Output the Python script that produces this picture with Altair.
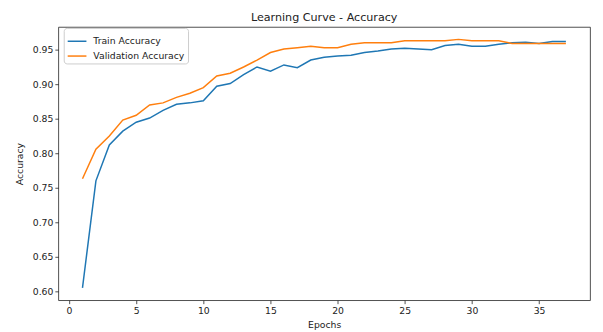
import altair as alt
import pandas as pd

epochs = list(range(1, 38))
train_acc = [0.605, 0.760, 0.812, 0.832, 0.845, 0.851, 0.862, 0.871, 0.873, 0.876,
             0.897, 0.901, 0.914, 0.925, 0.919, 0.928, 0.924, 0.935, 0.939, 0.941,
             0.942, 0.946, 0.948, 0.951, 0.952, 0.951, 0.950, 0.956, 0.958, 0.955,
             0.955, 0.958, 0.960, 0.961, 0.959, 0.962, 0.962]
val_acc = [0.763, 0.806, 0.825, 0.848, 0.855, 0.870, 0.873, 0.881, 0.887, 0.895,
           0.912, 0.916, 0.925, 0.935, 0.946, 0.951, 0.953, 0.955, 0.953, 0.953,
           0.958, 0.960, 0.960, 0.960, 0.963, 0.963, 0.963, 0.963, 0.965, 0.963,
           0.963, 0.963, 0.959, 0.959, 0.959, 0.959, 0.959]
series_names = ["Train Accuracy", "Validation Accuracy"]
series_colors = ["#1f77b4", "#ff7f0e"]
x_ticks = [0, 5, 10, 15, 20, 25, 30, 35]
y_ticks = [0.60, 0.65, 0.70, 0.75, 0.80, 0.85, 0.90, 0.95]

rows = []
for e, t, v in zip(epochs, train_acc, val_acc):
    rows.append({"Epoch": e, "Accuracy": t, "Series": series_names[0]})
    rows.append({"Epoch": e, "Accuracy": v, "Series": series_names[1]})
df = pd.DataFrame(rows)

FONT = "DejaVu Sans"
TXT = "#222222"

chart = alt.Chart(df).mark_line(strokeWidth=1.5).encode(
    x=alt.X("Epoch:Q",
            scale=alt.Scale(domain=[-0.8, 38.8], nice=False, zero=False),
            axis=alt.Axis(title="Epochs", values=x_ticks, format="d", grid=False,
                          domain=False, tickSize=3.5, tickColor=TXT, tickWidth=0.8,
                          labelFont=FONT, labelFontSize=9.4, labelColor=TXT,
                          labelPadding=3, titleFont=FONT, titleFontSize=9.4,
                          titleFontWeight="normal", titleColor=TXT, titlePadding=6)),
    y=alt.Y("Accuracy:Q",
            scale=alt.Scale(domain=[0.587, 0.983], nice=False, zero=False),
            axis=alt.Axis(title="Accuracy", values=y_ticks, format=".2f", grid=False,
                          domain=False, tickSize=3.5, tickColor=TXT, tickWidth=0.8,
                          labelFont=FONT, labelFontSize=9.4, labelColor=TXT,
                          labelPadding=2, titleFont=FONT, titleFontSize=9.4,
                          titleFontWeight="normal", titleColor=TXT, titlePadding=8)),
    color=alt.Color("Series:N",
                    scale=alt.Scale(domain=series_names, range=series_colors),
                    legend=alt.Legend(title=None, orient="none", legendX=5.5, legendY=1,
                                      symbolType="stroke", symbolSize=361,
                                      symbolStrokeWidth=1.5, labelFont=FONT,
                                      labelFontSize=9.4, labelColor=TXT,
                                      labelOffset=6, padding=3, rowPadding=-6,
                                      strokeColor="#cccccc", fillColor="rgba(255,255,255,0.8)",
                                      cornerRadius=3)),
).properties(
    width=539,
    height=277,
    title=alt.TitleParams("Learning Curve - Accuracy", font=FONT, fontSize=11.3,
                          fontWeight="normal", color=TXT, anchor="middle", offset=4),
    autosize=alt.AutoSizeParams(type="none"),
    padding={"left": 51, "top": 17, "right": 5, "bottom": 30},
    background="white",
).configure_view(
    stroke=TXT, strokeWidth=0.8
)

chart.save("out.html", embed_options={"renderer": "svg", "actions": False})
